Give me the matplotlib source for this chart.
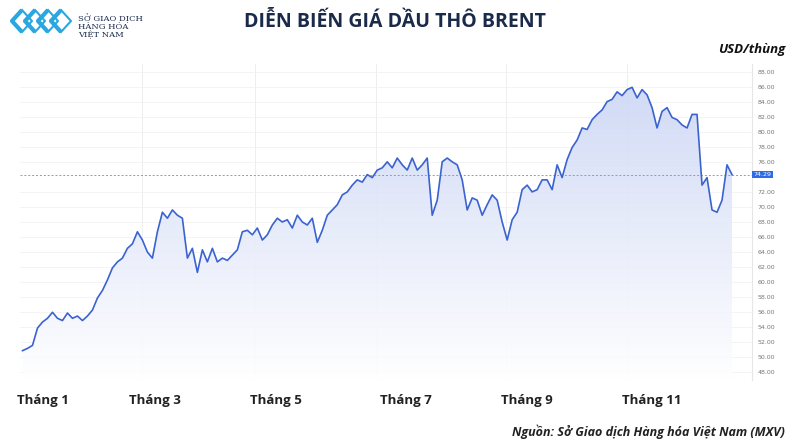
import matplotlib
matplotlib.use("Agg")
import matplotlib.pyplot as plt
import numpy as np
from matplotlib.patches import Polygon
from matplotlib.lines import Line2D
from matplotlib.colors import LinearSegmentedColormap

prices = [50.9,51.2,51.6,53.9,54.7,55.2,56.0,55.2,54.9,55.9,55.2,55.5,54.9,55.5,56.3,57.9,58.9,60.3,61.9,62.7,
63.2,64.5,65.1,66.7,65.6,64.0,63.2,66.7,69.3,68.5,69.6,68.9,68.5,63.2,64.5,61.3,64.3,62.7,64.5,62.7,
63.2,62.9,63.6,64.3,66.7,66.9,66.3,67.2,65.6,66.3,67.6,68.5,68.0,68.3,67.2,68.9,68.0,67.6,68.5,65.3,
66.9,68.9,69.6,70.3,71.6,72.0,72.9,73.6,73.3,74.3,73.9,74.9,75.2,76.0,75.2,76.5,75.6,74.9,76.5,74.9,
75.6,76.5,68.9,70.9,76.0,76.5,76.0,75.6,73.6,69.6,71.2,70.9,68.9,70.3,71.6,70.9,68.0,65.6,68.3,69.3,
72.3,72.9,72.0,72.3,73.6,73.6,72.3,75.6,73.9,76.3,77.9,78.9,80.5,80.3,81.6,82.3,82.9,84.0,84.3,85.3,
84.8,85.6,85.9,84.5,85.6,84.9,83.2,80.5,82.7,83.2,81.9,81.6,80.9,80.5,82.3,82.3,72.9,73.9,69.6,69.3,
70.9,75.6,74.29]
last_price = 74.29
month_labels = ["Tháng 1", "Tháng 3", "Tháng 5", "Tháng 7", "Tháng 9", "Tháng 11"]
month_pos = [4, 26.6, 50.8, 76.8, 101, 126]
yticks = [v for v in range(48, 90, 2) if v != 74]

W, H = 790, 444
fig = plt.figure(figsize=(W/100, H/100), dpi=100)
ax = fig.add_axes([20/W, 1-380/H, (752-20)/W, (380-64)/H])
x = np.arange(len(prices))
ax.set_xlim(-0.5, 146)
ax.set_ylim(47, 89)
line_c = "#3b63d0"
grad = np.linspace(0, 1, 256).reshape(-1, 1)
cmap = LinearSegmentedColormap.from_list("g", ["#ffffff", "#c9d4f5"])
im = ax.imshow(grad, extent=[-0.5, 146, 47, 89], origin="lower", cmap=cmap, aspect="auto", zorder=1, alpha=0.9)
verts = [(x[0], 47)] + list(zip(x, prices)) + [(x[-1], 47)]
poly = Polygon(verts, closed=True, transform=ax.transData, facecolor="none", edgecolor="none")
ax.add_patch(poly)
im.set_clip_path(poly)
ax.plot(x, prices, color=line_c, lw=1.2, zorder=3)
ax.axhline(last_price, color="#7d9be0", lw=0.7, ls=(0, (2, 2)), zorder=2)
for p in month_pos:
    ax.axvline(p + 20, color="#eeeeee", lw=0.7, zorder=0)
for v in yticks:
    ax.axhline(v, color="#f2f2f2", lw=0.6, zorder=0)
for s in ax.spines.values():
    s.set_visible(False)
ax.spines["right"].set_visible(True)
ax.spines["right"].set_color("#e6e6e6")
ax.yaxis.tick_right()
ax.set_yticks(yticks)
ax.set_yticklabels([f"{v:.2f}" for v in yticks], fontsize=4.5, color="#777777")
ax.tick_params(axis="y", length=0, pad=4)
ax.set_xticks([])
ax.text(146.3, last_price, f"{last_price:.2f}", fontsize=4.5, color="white", va="center", ha="left",
        bbox=dict(boxstyle="square,pad=0.2", fc="#2e6be6", ec="none"), zorder=5, clip_on=False)
for p, l in zip(month_pos, month_labels):
    ax.text(p, 44.3, l, ha="center", va="center", fontsize=9.5, fontweight="bold", color="#222222", family="Open Sans")
fig.text(395/W, 1-22/H, "DIỄN BIẾN GIÁ DẦU THÔ BRENT", ha="center", va="center", fontsize=14,
         fontweight="bold", color="#1a2a4a", family="Open Sans")
fig.text(785/W, 1-50/H, "USD/thùng", ha="right", va="center", fontsize=9.5, fontweight="bold",
         style="italic", color="#111111", family="Open Sans")
fig.text(785/W, 1-432/H, "Nguồn: Sở Giao dịch Hàng hóa Việt Nam (MXV)", ha="right", va="center", fontsize=9,
         fontweight="bold", style="italic", color="#222222", family="Open Sans")
fig.text(78/W, 1-13/H, "SỞ GIAO DỊCH\nHÀNG HÓA\nVIỆT NAM", ha="left", va="top", fontsize=6,
         color="#1a2a4a", family="DejaVu Serif", linespacing=1.0)
# logo chevrons
for i in range(4):
    x0 = 12 + i * 13
    pts_x = [x0 + 10, x0, x0 + 10]
    pts_y = [10, 21, 32]
    fig.add_artist(Line2D([px / W for px in pts_x], [1 - py / H for py in pts_y],
                          color="#2aa7df", lw=3, solid_capstyle="butt"))
    pts_x2 = [x0 + 10, x0 + 20, x0 + 10]
    fig.add_artist(Line2D([px / W for px in pts_x2], [1 - py / H for py in pts_y],
                          color="#2aa7df", lw=1.5))
fig.savefig("out.png", dpi=100)
